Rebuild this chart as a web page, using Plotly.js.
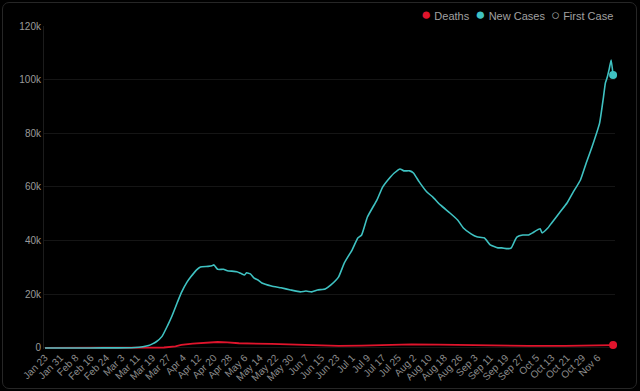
<!DOCTYPE html>
<html>
<head>
<meta charset="utf-8">
<script src="https://cdn.plot.ly/plotly-3.0.1.min.js"></script>
<style>
html,body{margin:0;padding:0;background:#000;}
#chart{position:absolute;left:0;top:0;width:640px;height:391px;}
#frame{position:absolute;left:2px;top:2px;width:633px;height:385px;border:1px solid #262626;border-radius:7px;pointer-events:none;}
</style>
</head>
<body>
<div id="chart"></div>
<div id="frame"></div>
<script>
// New cases (7-day average)
const caseDates = ['2020-01-23','2020-02-15','2020-03-01','2020-03-08','2020-03-12','2020-03-14','2020-03-17','2020-03-19','2020-03-21','2020-03-24','2020-03-27','2020-03-29','2020-04-01','2020-04-03','2020-04-06','2020-04-08','2020-04-11','2020-04-13','2020-04-17','2020-04-19','2020-04-20','2020-04-22','2020-04-25','2020-04-27','2020-05-02','2020-05-04','2020-05-06','2020-05-07','2020-05-09','2020-05-11','2020-05-13','2020-05-15','2020-05-20','2020-05-25','2020-05-30','2020-06-04','2020-06-07','2020-06-10','2020-06-13','2020-06-17','2020-06-20','2020-06-24','2020-06-27','2020-07-01','2020-07-04','2020-07-06','2020-07-09','2020-07-14','2020-07-17','2020-07-21','2020-07-23','2020-07-26','2020-07-28','2020-07-31','2020-08-02','2020-08-05','2020-08-09','2020-08-12','2020-08-16','2020-08-21','2020-08-25','2020-08-28','2020-09-01','2020-09-04','2020-09-08','2020-09-11','2020-09-15','2020-09-17','2020-09-20','2020-09-22','2020-09-24','2020-09-25','2020-09-28','2020-10-01','2020-10-03','2020-10-07','2020-10-08','2020-10-11','2020-10-13','2020-10-17','2020-10-21','2020-10-24','2020-10-28','2020-10-31','2020-11-03','2020-11-07','2020-11-09','2020-11-10','2020-11-11','2020-11-12','2020-11-13','2020-11-14'];
const caseValues = [0,0,10,60,250,450,900,1500,2300,4300,8500,11600,17000,20500,24500,26500,29100,30200,30400,30600,31000,29300,29300,28800,28400,27800,27200,28000,27600,26000,25300,24200,23100,22400,21600,20900,21200,20900,21600,22000,23500,26500,31700,36500,41000,42100,48800,55200,60000,63700,65200,66700,66000,66000,65200,61900,58100,56300,53300,50300,47700,44700,42500,41400,41000,38400,37300,37300,37000,37300,40300,41400,42100,42100,42900,44400,42900,44700,46600,50300,54000,57800,62600,68900,74900,83900,93500,98800,101000,104000,107300,101700];

// Deaths (7-day average)
const deathDates = ['2020-01-23','2020-03-10','2020-03-20','2020-03-25','2020-03-31','2020-04-03','2020-04-09','2020-04-15','2020-04-18','2020-04-22','2020-04-27','2020-05-03','2020-05-20','2020-06-06','2020-06-24','2020-07-06','2020-07-20','2020-08-01','2020-08-15','2020-08-28','2020-09-15','2020-10-01','2020-10-20','2020-11-05','2020-11-14'];
const deathValues = [0,0,30,150,600,1100,1600,2000,2150,2200,2100,1750,1500,1100,750,850,1100,1350,1200,1000,850,750,750,900,1050];

// X tick positions (every 8 days) and their labels
const xTickDates = ['2020-01-23','2020-01-31','2020-02-08','2020-02-16','2020-02-24','2020-03-03','2020-03-11','2020-03-19','2020-03-27','2020-04-04','2020-04-12','2020-04-20','2020-04-28','2020-05-06','2020-05-14','2020-05-22','2020-05-30','2020-06-07','2020-06-15','2020-06-23','2020-07-01','2020-07-09','2020-07-17','2020-07-25','2020-08-02','2020-08-10','2020-08-18','2020-08-26','2020-09-03','2020-09-11','2020-09-19','2020-09-27','2020-10-05','2020-10-13','2020-10-21','2020-10-29','2020-11-06'];
const xTickText = ['Jan 23','Jan 31','Feb 8','Feb 16','Feb 24','Mar 3','Mar 11','Mar 19','Mar 27','Apr 4','Apr 12','Apr 20','Apr 28','May 6','May 14','May 22','May 30','Jun 7','Jun 15','Jun 23','Jul 1','Jul 9','Jul 17','Jul 25','Aug 2','Aug 10','Aug 18','Aug 26','Sep 3','Sep 11','Sep 19','Sep 27','Oct 5','Oct 13','Oct 21','Oct 29','Nov 6'];

const yTicks = [0,20000,40000,60000,80000,100000,120000];
const yTickText = ['0','20k','40k','60k','80k','100k','120k'];

const teal = '#3fc2c2';
const red = '#e0142c';

const lastC = caseDates.length - 1;
const lastD = deathDates.length - 1;

const traces = [
  {x: deathDates, y: deathValues, type:'scatter', mode:'lines', line:{color:red, width:1.8}, showlegend:false, hoverinfo:'skip'},
  {x: caseDates, y: caseValues, type:'scatter', mode:'lines', line:{color:teal, width:1.6, shape:'spline', smoothing:0.4}, showlegend:false, hoverinfo:'skip'},
  {x: [deathDates[lastD]], y: [deathValues[lastD]], type:'scatter', mode:'markers', marker:{color:red, size:8}, cliponaxis:false, showlegend:false},
  {x: [caseDates[lastC]], y: [caseValues[lastC]], type:'scatter', mode:'markers', marker:{color:teal, size:8}, cliponaxis:false, showlegend:false}
];

const legendText = '<span style="color:' + red + ';font-size:17px">●</span> Deaths  <span style="color:' + teal + ';font-size:17px">●</span> New Cases  <span style="color:#9a9a9a;font-size:15px">○</span> First Case';

const layout = {
  width: 640, height: 391,
  paper_bgcolor: '#000', plot_bgcolor: '#000',
  margin: {l: 44, r: 25, t: 26, b: 42},
  font: {family: 'Liberation Sans, Arial, sans-serif', color: '#9a9a9a', size: 10},
  showlegend: false,
  xaxis: {
    type: 'date',
    range: ['2020-01-22 12:00', '2020-11-15'],
    tickmode: 'array', tickvals: xTickDates, ticktext: xTickText,
    tickangle: -45,
    showgrid: false, zeroline: false, showline: false,
    ticks: '', tickfont: {size: 10, color: '#8c8c8c'}
  },
  yaxis: {
    range: [-400, 120000],
    tickvals: yTicks, ticktext: yTickText,
    showgrid: true, gridcolor: '#151515', gridwidth: 1,
    zeroline: false, showline: true, linecolor: '#1c1c1c', linewidth: 1,
    ticks: '', tickfont: {size: 10, color: '#9a9a9a'}
  },
  annotations: [{
    xref: 'paper', yref: 'paper', x: 1, y: 1.035, xanchor: 'right', yanchor: 'middle',
    text: legendText, showarrow: false, font: {size: 11, color: '#a0a0a0'}
  }]
};

Plotly.newPlot('chart', traces, layout, {displayModeBar: false, staticPlot: true});
</script>
</body>
</html>
